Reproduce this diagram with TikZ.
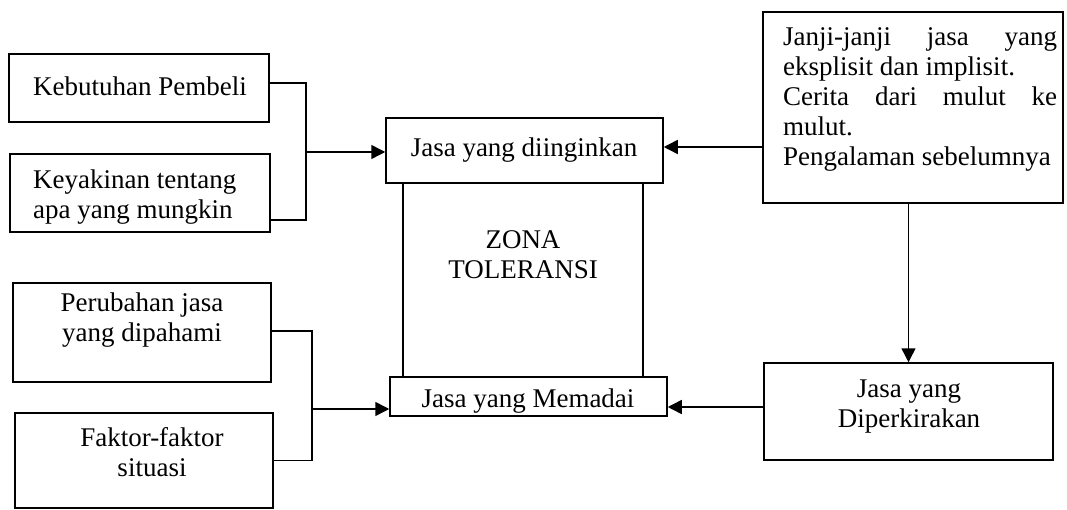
\documentclass[tikz,border=0pt]{standalone}
\usepackage{fontspec}
\setmainfont{Liberation Serif}
\usetikzlibrary{arrows.meta}
\begin{document}
\begin{tikzpicture}[x=1pt,y=-1pt,
  box/.style={draw, line width=1.5pt, inner sep=0pt, minimum width=#1},
  txt/.style={font=\fontsize{27}{30}\selectfont, inner sep=0pt, align=center},
  conn/.style={line width=1.5pt},
  arr/.style={line width=1.5pt, -{Triangle[length=14pt,width=14pt]}}]
\useasboundingbox (0,0) rectangle (1067,510);
% left boxes
\node[box=260pt, minimum height=68pt] (kb) at (139,88) {};
\node[box=260pt, minimum height=78pt] (ky) at (140,193) {};
\node[box=258pt, minimum height=99pt] (pj) at (142,332.5) {};
\node[box=258pt, minimum height=95pt] (fs) at (144,460.5) {};
% centre boxes
\node[box=240pt, minimum height=194pt] (zt) at (523,280) {};
\node[box=277pt, minimum height=65pt] (di) at (524.5,150.5) {};
\node[box=277pt, minimum height=39pt] (md) at (528.5,396.5) {};
% right boxes
\node[box=300pt, minimum height=191pt] (jj) at (913,107.5) {};
\node[box=289pt, minimum height=97pt] (dp) at (908.5,411.5) {};
% texts
\node[txt] (kbt) at (140,86) {Kebutuhan Pembeli};
\node[txt, align=left, anchor=west] (kyt) at (33,197) {Keyakinan tentang\\apa yang mungkin};
\node[txt] (pjt) at (142,320) {Perubahan jasa\\yang dipahami};
\node[txt] (fst) at (152,452) {Faktor-faktor\\situasi};
\node[txt] (dit) at (524,150) {Jasa yang diinginkan};
\node[txt] (ztt) at (523,255) {ZONA\\TOLERANSI};
\node[txt] (mdt) at (528,401) {Jasa yang Memadai};
\node[txt, align=left, anchor=west] (jjt) at (783,99) {\makebox[274pt][s]{Janji-janji jasa yang}\\eksplisit dan implisit.\\\makebox[274pt][s]{Cerita dari mulut ke}\\mulut.\\Pengalaman sebelumnya};
\node[txt] (dpt) at (909,407) {Jasa yang\\Diperkirakan};
% junctions
\coordinate (j1) at (306,152);
\coordinate (j2) at (312,409);
\coordinate (a1) at (700,147);
\coordinate (a2) at (700,407);
% connectors
\draw[conn] ([yshift=5pt]kb.east) -| (j1) |- ([yshift=-27pt]ky.east);
\draw[arr] (j1) -- (di.west |- j1);
\draw[conn] ([yshift=1.5pt]pj.east) -| (j2) |- (fs.east);
\draw[arr] (j2) -- (md.west |- j2);
\draw[arr] (jj.west |- a1) -- (di.east |- a1);
\draw[arr] (dp.north |- jj.south) -- (dp.north);
\draw[arr] (dp.west |- a2) -- (md.east |- a2);
\end{tikzpicture}
\end{document}
